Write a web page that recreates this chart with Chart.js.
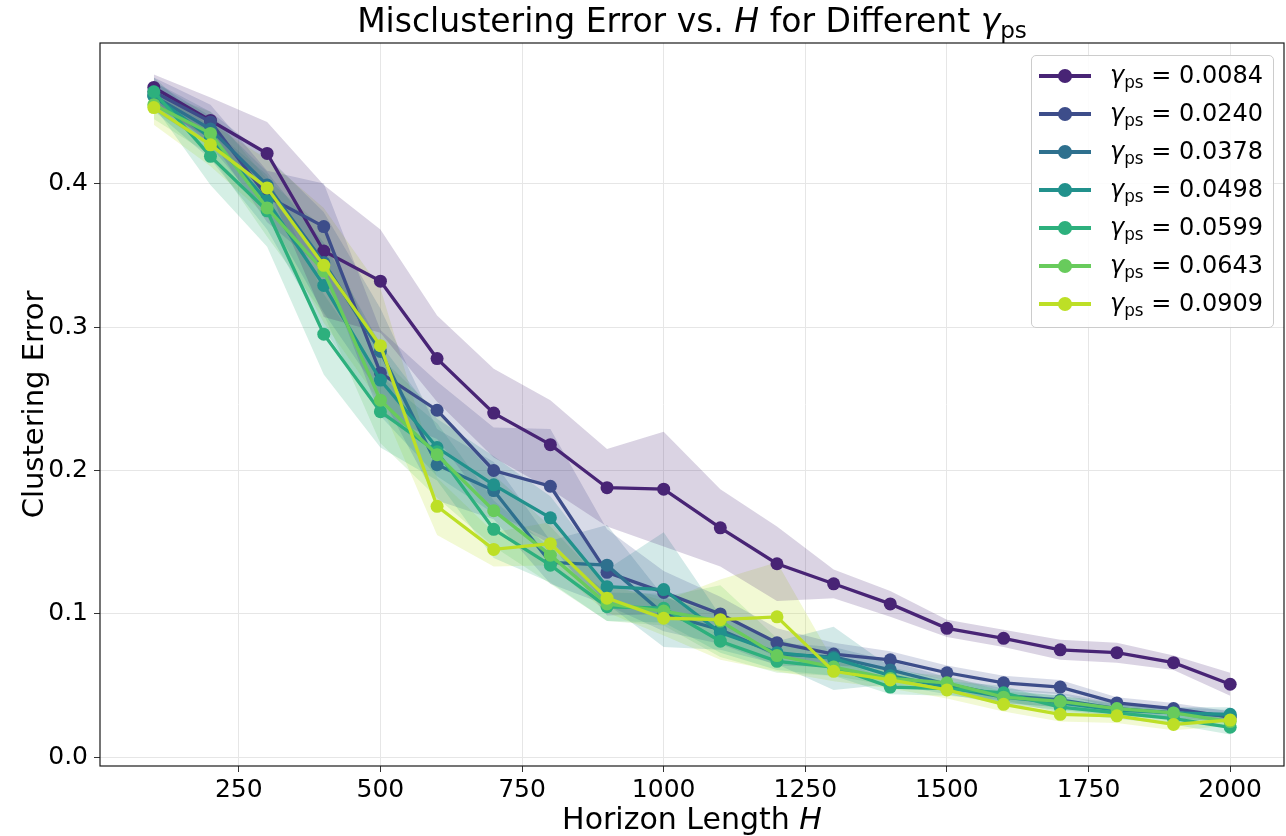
<!DOCTYPE html>
<html>
<head>
<meta charset="utf-8">
<title>Misclustering Error vs. H</title>
<script src="https://cdn.jsdelivr.net/npm/chart.js@4.4.0/dist/chart.umd.min.js"></script>
<style>
  body { margin: 0; background: #fff; font-family: "DejaVu Sans", sans-serif; }
  #wrap { position: relative; width: 1286px; height: 836px; }
  #errorChart { position: absolute; left: 0; top: 0; }
  .txt { position: absolute; left: 100px; width: 1184px; text-align: center; color: #000; white-space: nowrap; }
  #title { top: 2px; font-size: 33px; line-height: 38px; }
  #xTitle { top: 802px; font-size: 30px; line-height: 34px; }
  sub { font-size: 70%; vertical-align: -0.28em; line-height: 0; }
  #legend {
    position: absolute; left: 1031px; top: 55px; width: 243px; height: 273px;
    box-sizing: border-box; border: 1px solid #cccccc; border-radius: 5px;
    background: rgba(255, 255, 255, 0.85);
  }
  .row { position: absolute; left: 0; width: 100%; height: 38px; }
  .row .ln { position: absolute; left: 7px; top: 17px; width: 52px; height: 4px; }
  .row .dot { position: absolute; left: 26px; top: 12px; width: 14px; height: 14px; border-radius: 50%; }
  .row .lab { position: absolute; left: 78px; top: 2px; font-size: 24px; line-height: 32px; }
</style>
</head>
<body>
<div id="wrap">
  <canvas id="errorChart" width="1286" height="836"></canvas>
  <div id="title" class="txt">Misclustering Error vs. <i>H</i> for Different <i>γ</i><sub>ps</sub></div>
  <div id="xTitle" class="txt">Horizon Length <i>H</i></div>
  <div id="legend"></div>
</div>
<script>
// horizon lengths on the x axis
const horizons = [100, 200, 300, 400, 500, 600, 700, 800, 900, 1000,
                  1100, 1200, 1300, 1400, 1500, 1600, 1700, 1800, 1900, 2000];

const gammaLabels = ["0.0084", "0.0240", "0.0378", "0.0498", "0.0599", "0.0643", "0.0909"];
const colors = ["#482475", "#3d4d8a", "#2e708e", "#21918c", "#2db07d", "#68cb5c", "#bddf26"];

// mean clustering error per gamma
const err0084 = [0.467, 0.444, 0.421, 0.353, 0.332, 0.278, 0.240, 0.218, 0.188, 0.187,
                 0.160, 0.135, 0.121, 0.107, 0.090, 0.083, 0.075, 0.073, 0.066, 0.051];
const err0240 = [0.464, 0.443, 0.391, 0.370, 0.268, 0.242, 0.200, 0.189, 0.129, 0.115,
                 0.100, 0.080, 0.072, 0.068, 0.059, 0.052, 0.049, 0.038, 0.034, 0.028];
const err0378 = [0.461, 0.438, 0.399, 0.345, 0.283, 0.204, 0.186, 0.136, 0.134, 0.100,
                 0.089, 0.072, 0.070, 0.061, 0.051, 0.043, 0.040, 0.034, 0.031, 0.029];
const err0498 = [0.461, 0.432, 0.388, 0.329, 0.263, 0.216, 0.190, 0.167, 0.119, 0.117,
                 0.087, 0.073, 0.069, 0.057, 0.049, 0.042, 0.038, 0.033, 0.031, 0.030];
const err0599 = [0.464, 0.419, 0.381, 0.295, 0.241, 0.213, 0.159, 0.134, 0.105, 0.104,
                 0.081, 0.067, 0.063, 0.049, 0.048, 0.045, 0.035, 0.031, 0.027, 0.021];
const err0643 = [0.455, 0.435, 0.383, 0.339, 0.249, 0.211, 0.172, 0.141, 0.107, 0.102,
                 0.095, 0.071, 0.063, 0.055, 0.052, 0.042, 0.039, 0.034, 0.031, 0.025];
const err0909 = [0.453, 0.427, 0.397, 0.343, 0.287, 0.175, 0.145, 0.149, 0.111, 0.097,
                 0.096, 0.098, 0.060, 0.054, 0.047, 0.037, 0.030, 0.029, 0.023, 0.026];

// half width of the shaded band (std over runs)
const std0084 = [0.009, 0.016, 0.022, 0.046, 0.036, 0.030, 0.031, 0.031, 0.027, 0.040,
                 0.027, 0.026, 0.010, 0.009, 0.006, 0.006, 0.007, 0.007, 0.005, 0.008];
const std0240 = [0.010, 0.012, 0.018, 0.030, 0.030, 0.020, 0.030, 0.040, 0.030, 0.015,
                 0.012, 0.010, 0.008, 0.006, 0.005, 0.005, 0.005, 0.004, 0.004, 0.004];
const std0378 = [0.010, 0.012, 0.020, 0.035, 0.030, 0.025, 0.020, 0.015, 0.028, 0.012,
                 0.010, 0.008, 0.007, 0.006, 0.005, 0.005, 0.005, 0.004, 0.004, 0.004];
const std0498 = [0.010, 0.015, 0.020, 0.030, 0.025, 0.020, 0.020, 0.015, 0.012, 0.040,
                 0.012, 0.008, 0.022, 0.006, 0.005, 0.005, 0.005, 0.004, 0.004, 0.005];
const std0599 = [0.010, 0.020, 0.025, 0.028, 0.025, 0.020, 0.020, 0.012, 0.010, 0.010,
                 0.008, 0.006, 0.006, 0.005, 0.005, 0.005, 0.004, 0.004, 0.004, 0.005];
const std0643 = [0.010, 0.015, 0.020, 0.030, 0.030, 0.030, 0.025, 0.020, 0.012, 0.010,
                 0.025, 0.012, 0.006, 0.005, 0.005, 0.004, 0.004, 0.004, 0.004, 0.004];
const std0909 = [0.012, 0.015, 0.020, 0.040, 0.040, 0.020, 0.012, 0.015, 0.010, 0.012,
                 0.028, 0.038, 0.007, 0.006, 0.006, 0.005, 0.005, 0.005, 0.004, 0.004];

const xTicks = [250, 500, 750, 1000, 1250, 1500, 1750, 2000];
const yTicks = [0.0, 0.1, 0.2, 0.3, 0.4];

const means = [err0084, err0240, err0378, err0498, err0599, err0643, err0909];
const stds = [std0084, std0240, std0378, std0498, std0599, std0643, std0909];

function withAlpha(hex, a) {
  const n = parseInt(hex.slice(1), 16);
  return "rgba(" + (n >> 16) + "," + ((n >> 8) & 255) + "," + (n & 255) + "," + a + ")";
}

function points(vals) {
  return vals.map((v, j) => ({ x: horizons[j], y: v }));
}

const datasets = [];
// shaded bands first: upper edge fills down to the lower edge right after it
means.forEach((m, i) => {
  datasets.push({
    data: points(m.map((v, j) => v + stds[i][j])),
    fill: "+1",
    backgroundColor: withAlpha(colors[i], 0.2),
    borderColor: "transparent",
    borderWidth: 0,
    pointRadius: 0,
    order: 20,
  });
  datasets.push({
    data: points(m.map((v, j) => v - stds[i][j])),
    fill: false,
    borderColor: "transparent",
    borderWidth: 0,
    pointRadius: 0,
    order: 20,
  });
});
means.forEach((m, i) => {
  datasets.push({
    label: gammaLabels[i],
    data: points(m),
    fill: false,
    borderColor: colors[i],
    backgroundColor: colors[i],
    borderWidth: 3.3,
    pointRadius: 6.5,
    pointBorderWidth: 0,
    pointBackgroundColor: colors[i],
    tension: 0,
    order: 6 - i,
  });
});

// matplotlib-style box around the plot area
const frame = {
  id: "frame",
  afterDatasetsDraw(chart) {
    const a = chart.chartArea;
    const ctx = chart.ctx;
    ctx.save();
    ctx.strokeStyle = "#1a1a1a";
    ctx.lineWidth = 1.2;
    ctx.strokeRect(a.left, a.top, a.right - a.left, a.bottom - a.top);
    ctx.restore();
  },
};

const tickFont = { family: "DejaVu Sans", size: 25 };

new Chart(document.getElementById("errorChart"), {
  type: "line",
  data: { datasets: datasets },
  plugins: [frame],
  options: {
    responsive: false,
    devicePixelRatio: 1,
    animation: false,
    events: [],
    layout: { autoPadding: false, padding: { top: 43, right: 2, left: 0, bottom: 0 } },
    plugins: {
      legend: { display: false },
      tooltip: { enabled: false },
      filler: { propagate: false },
    },
    scales: {
      x: {
        type: "linear",
        min: 5,
        max: 2095,
        afterBuildTicks: (s) => { s.ticks = xTicks.map((v) => ({ value: v })); },
        afterFit: (s) => { s.height = 70; s.paddingLeft = 0; s.paddingRight = 0; },
        border: { display: false },
        grid: { color: "#e6e6e6", lineWidth: 1, tickLength: 6, tickColor: "#333" },
        ticks: {
          color: "#000", font: tickFont, padding: 3, maxRotation: 0, autoSkip: false,
          callback: (v) => String(v),
        },
      },
      y: {
        min: -0.006,
        max: 0.498,
        afterBuildTicks: (s) => { s.ticks = yTicks.map((v) => ({ value: v })); },
        afterFit: (s) => { s.width = 100; s.paddingTop = 0; s.paddingBottom = 0; },
        border: { display: false },
        grid: { color: "#e6e6e6", lineWidth: 1, tickLength: 6, tickColor: "#333" },
        ticks: {
          color: "#000", font: tickFont, padding: 6, autoSkip: false,
          callback: (v) => v.toFixed(1),
        },
        title: {
          display: true,
          text: "Clustering Error",
          color: "#000",
          font: { family: "DejaVu Sans", size: 29 },
          padding: { top: 18, bottom: 0 },
        },
      },
    },
  },
});

// legend with subscripted gamma, built from the same labels and colours
const legend = document.getElementById("legend");
gammaLabels.forEach((g, i) => {
  const row = document.createElement("div");
  row.className = "row";
  row.style.top = (1 + i * 38) + "px";
  row.innerHTML =
    '<span class="ln" style="background:' + colors[i] + '"></span>' +
    '<span class="dot" style="background:' + colors[i] + '"></span>' +
    '<span class="lab"><i>γ</i><sub>ps</sub> = ' + g + "</span>";
  legend.appendChild(row);
});
</script>
</body>
</html>
